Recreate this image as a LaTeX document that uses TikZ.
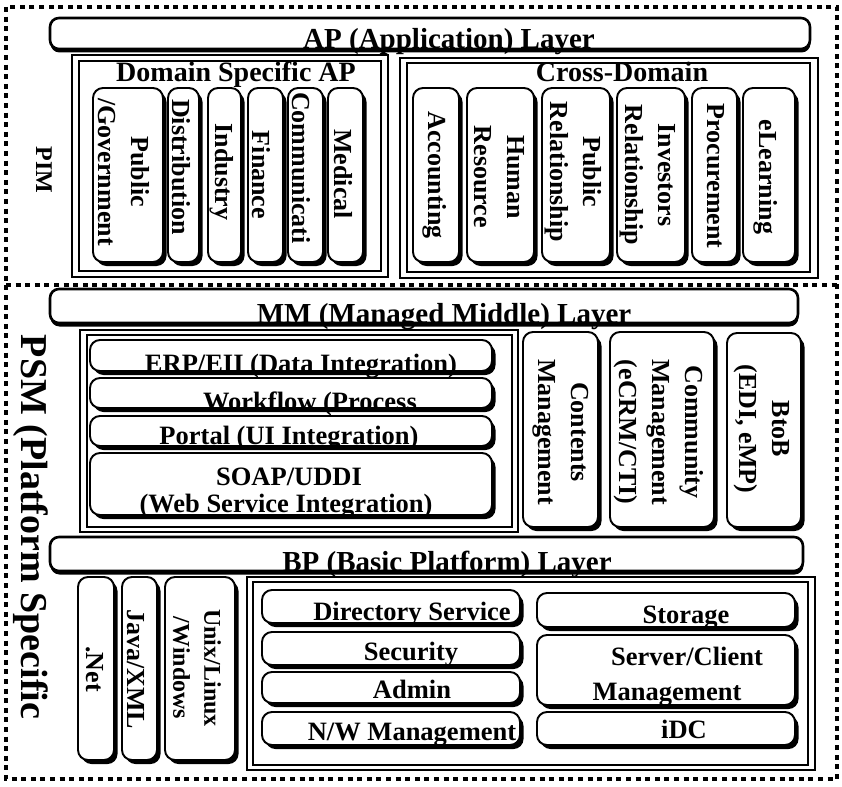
\documentclass[tikz,border=0pt]{standalone}
\usepackage{fontspec}
\setmainfont{Liberation Serif}
\usetikzlibrary{fit,shadows}
\begin{document}
\begin{tikzpicture}[x=1pt,y=-1pt,
  dotline/.style={line width=4pt, dash pattern=on 5pt off 4.6pt},
  blk/.style={draw, line width=1.9pt, rounded corners=10pt, fill=white, inner sep=0pt,
    drop shadow={shadow xshift=3.5pt, shadow yshift=-4pt, opacity=1, fill=black}},
  bar/.style={draw, line width=2.6pt, rounded corners=9pt, fill=white, inner sep=0pt,
    drop shadow={shadow xshift=0.5pt, shadow yshift=-3.5pt, opacity=1, fill=black}},
  frame/.style={draw, line width=1.1pt, inner sep=0pt},
  vt/.style={rotate=-90, align=center, inner sep=0pt, font=\bfseries\fontsize{26}{33}\selectfont},
  ht/.style={anchor=base, inner sep=0pt, font=\bfseries\fontsize{26.5}{30}\selectfont},
  lt/.style={anchor=base, inner sep=0pt, font=\bfseries\fontsize{29}{32}\selectfont},
  gt/.style={anchor=base, inner sep=0pt, font=\bfseries\fontsize{28}{32}\selectfont},
]
\useasboundingbox (0,0) rectangle (842,786);

% outer dotted frames: PIM above, PSM below
\draw[dotline] (6,7) rectangle (837,779);
\draw[dotline] (6,285) -- (837,285);

% side labels
\node[rotate=-90, inner sep=0pt, font=\bfseries\fontsize{24}{28}\selectfont] (pim) at (44,170) {PIM};
\node[rotate=-90, inner sep=0pt, font=\bfseries\fontsize{38}{42}\selectfont] (psm) at (31,527) {PSM (Platform Specific};

% ---------------- AP layer ----------------
\node[bar, fit={(50,18) (810,49)}] (ap) {};
\node[lt] (apt) at (449,49) {AP (Application) Layer};

\node[frame, fit={(72,55) (388,277)}] (dsa-o) {};
\node[frame, fit={(79,61) (381,271)}] (dsa) {};
\node[gt] (dsat) at (236,82) {Domain Specific AP};

\node[frame, fit={(400,58) (818,278)}] (cd-o) {};
\node[frame, fit={(407,63) (810,272)}] (cd) {};
\node[gt] (cdt) at (622,82) {Cross-Domain};

% domain specific columns
\node[blk, fit={(93,88) (163,262)}] (pg) {};
\node[blk, fit={(168,88) (199,262)}] (dist) {};
\node[blk, fit={(208,88) (241,262)}] (ind) {};
\node[blk, fit={(248,88) (283,262)}] (fin) {};
\node[blk, fit={(288,88) (323,262)}] (com) {};
\node[blk, fit={(328,88) (363,262)}] (med) {};
\node[vt] (pgt) at (124,172) {Public\\/Government};
\node[vt] (distt) at (181,167) {Distribution};
\node[vt] (indt) at (222,172) {Industry};
\node[vt] (fint) at (261,175) {Finance};
\node[vt] (comt) at (301,168) {Communicati};
\node[vt] (medt) at (343,174) {Medical};

% cross-domain columns
\node[blk, fit={(413,88) (459,262)}] (acc) {};
\node[blk, fit={(467,88) (534,262)}] (hr) {};
\node[blk, fit={(542,88) (610,262)}] (pr) {};
\node[blk, fit={(617,88) (685,262)}] (ir) {};
\node[blk, fit={(692,88) (737,262)}] (proc) {};
\node[blk, fit={(743,88) (795,262)}] (el) {};
\node[vt] (acct) at (435,175) {Accounting};
\node[vt] (hrt) at (499,177) {Human\\Resource};
\node[vt] (prt) at (573,172) {Public\\Relationship};
\node[vt] (irt) at (648,175) {Investors\\Relationship};
\node[vt] (proct) at (716,176) {Procurement};
\node[vt] (elt) at (766,177) {eLearning};

% ---------------- MM layer ----------------
\node[bar, fit={(50,289) (798,323)}] (mm) {};
\node[lt] (mmt) at (444,323) {MM (Managed Middle) Layer};

\node[frame, fit={(80,330) (518,532)}] (int-o) {};
\node[frame, fit={(87,335) (512,527)}] (int) {};

\node[blk, fit={(90,340) (492,371)}] (erp) {};
\node[blk, fit={(90,378) (492,408)}] (wf) {};
\node[blk, fit={(90,416) (492,446)}] (portal) {};
\node[blk, fit={(90,453) (492,515)}] (soap) {};
\node[ht] (erpt) at (301,372) {ERP/EII (Data Integration)};
\node[ht] (wft) at (310,410) {Workflow (Process};
\node[ht] (portalt) at (289,444) {Portal (UI Integration)};
\node[ht] (soapt) at (289,485) {SOAP/UDDI};
\node[ht] (webt) at (286,512) {(Web Service Integration)};

\node[blk, fit={(523,332) (598,527)}] (cm) {};
\node[blk, fit={(610,332) (714,527)}] (crm) {};
\node[blk, fit={(727,333) (801,527)}] (b2b) {};
\node[vt] (cmt) at (561,432) {Contents\\Management};
\node[vt] (crmt) at (659,432) {Community\\Management\\(eCRM/CTI)};
\node[vt] (b2bt) at (762,429) {BtoB\\(EDI, eMP)};

% ---------------- BP layer ----------------
\node[bar, fit={(50,537) (803,571)}] (bp) {};
\node[lt] (bpt) at (447,571) {BP (Basic Platform) Layer};

\node[blk, fit={(78,577) (114,760)}] (net) {};
\node[blk, fit={(122,577) (157,760)}] (java) {};
\node[blk, fit={(165,577) (235,760)}] (os) {};
\node[vt] (nett) at (95,669) {.Net};
\node[vt] (javat) at (136,669) {Java/XML};
\node[vt, font=\bfseries\fontsize{24}{31}\selectfont] (ost) at (197,668) {Unix/Linux\\/Windows};

\node[frame, fit={(247,577) (815,770)}] (svc-o) {};
\node[frame, fit={(253,582) (808,765)}] (svc) {};

\node[blk, fit={(262,590) (520,623)}] (dir) {};
\node[blk, fit={(262,632) (520,665)}] (sec) {};
\node[blk, fit={(262,672) (520,703)}] (adm) {};
\node[blk, fit={(262,712) (520,745)}] (nw) {};
\node[ht] (dirt) at (412,620) {Directory Service};
\node[ht] (sect) at (411,660) {Security};
\node[ht] (admt) at (412,698) {Admin};
\node[ht] (nwt) at (412,740) {N/W Management};

\node[blk, fit={(537,593) (795,627)}] (sto) {};
\node[blk, fit={(537,635) (795,705)}] (sc) {};
\node[blk, fit={(537,712) (795,745)}] (idc) {};
\node[ht] (stot) at (686,623) {Storage};
\node[ht] (sct) at (687,665) {Server/Client};
\node[ht] (scmt) at (667,700) {Management};
\node[ht] (idct) at (684,738) {iDC};
\end{tikzpicture}
\end{document}
